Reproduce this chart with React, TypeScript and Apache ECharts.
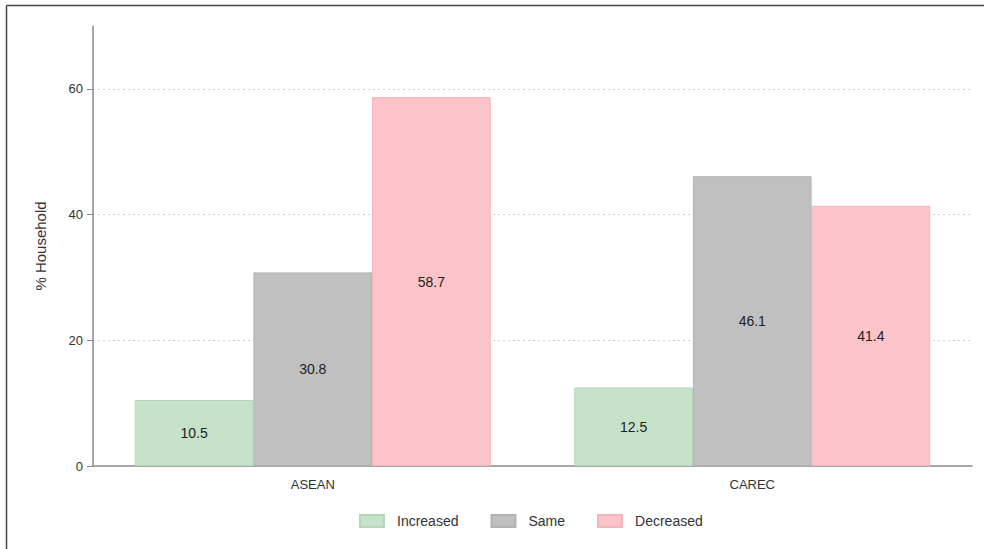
import React, { useEffect, useRef } from "react";
import * as echarts from "echarts";

const categories = ["ASEAN", "CAREC"];
const increased = [10.5, 12.5];
const same = [30.8, 46.1];
const decreased = [58.7, 41.4];
const seriesNames = ["Increased", "Same", "Decreased"];
const yTicks = [0, 20, 40, 60];

const FONT = "'Liberation Sans', Arial, sans-serif";

export default function App() {
  const ref = useRef<HTMLDivElement>(null);
  useEffect(() => {
    if (!ref.current) return;
    const chart = echarts.init(ref.current, undefined, { renderer: "svg" });
    const colors = ["#c6e3c9", "#c0c0c0", "#fcc4c8"];
    const borders = ["#b5d6b9", "#b2b2b2", "#efb6bb"];
    const mk = (name: string, data: number[], i: number) => ({
      name,
      type: "bar",
      data,
      barGap: "0%",
      barCategoryGap: "19%",
      itemStyle: { color: colors[i], borderColor: borders[i], borderWidth: 1 },
      label: {
        show: true,
        position: "inside",
        color: "#222",
        fontSize: 14,
        fontFamily: FONT,
        formatter: (p: any) => p.value.toFixed(1),
      },
      emphasis: { disabled: true },
    });
    chart.setOption({
      animation: false,
      backgroundColor: "#fff",
      textStyle: { fontFamily: FONT },
      grid: { left: 93, right: 12, top: 26, bottom: 83, containLabel: false },
      legend: {
        bottom: 16,
        left: 354,
        itemWidth: 24,
        itemHeight: 12,
        itemGap: 32,
        icon: "rect",
        textStyle: { fontSize: 14, color: "#333", fontFamily: FONT, padding: [0, 0, 0, 8] },
        data: seriesNames,
      },
      xAxis: {
        type: "category",
        data: categories,
        axisLine: { lineStyle: { color: "#8a8a8a", width: 1.5 } },
        axisTick: { show: false },
        axisLabel: { fontSize: 13, color: "#333", margin: 12, fontFamily: FONT },
      },
      yAxis: {
        type: "value",
        min: 0,
        max: 70,
        interval: 20,
        name: "% Household",
        nameLocation: "middle",
        nameGap: 45,
        nameTextStyle: { fontSize: 15, color: "#333", fontFamily: FONT },
        axisLine: { show: true, lineStyle: { color: "#8a8a8a", width: 1.5 } },
        axisTick: { show: true, length: 6, lineStyle: { color: "#8a8a8a" }, customValues: yTicks },
        axisLabel: {
          fontSize: 13,
          color: "#333",
          margin: 10,
          fontFamily: FONT,
          customValues: yTicks,
        },
        splitLine: { show: false },
      },
      graphic: [
        { type: "line", shape: { x1: 6.5, y1: 5.5, x2: 984, y2: 5.5 }, style: { stroke: "#444", lineWidth: 1.5 } },
        { type: "line", shape: { x1: 6.5, y1: 5.5, x2: 6.5, y2: 549 }, style: { stroke: "#444", lineWidth: 1.5 } },
      ],
      series: [
        {
          ...mk("Increased", increased, 0),
          markLine: {
            silent: true,
            symbol: "none",
            label: { show: false },
            lineStyle: { color: "#d0d0d0", type: [2, 3], width: 1 },
            data: yTicks.filter((v) => v > 0).map((v) => ({ yAxis: v })),
            z: 0,
          },
          z: 2,
        },
        mk("Same", same, 1),
        mk("Decreased", decreased, 2),
      ],
    });
    return () => chart.dispose();
  }, []);
  return (
    <div
      ref={ref}
      style={{ position: "fixed", left: 0, top: 0, width: 984, height: 549 }}
    />
  );
}
